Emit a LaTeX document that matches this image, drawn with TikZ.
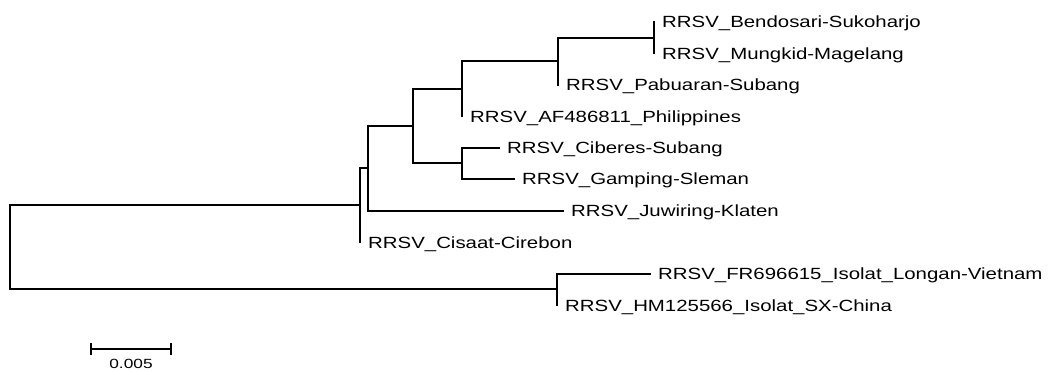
\documentclass[tikz,border=0pt]{standalone}
\usepackage{fontspec}
\setmainfont{Liberation Sans}[FakeStretch=1.26]
\newfontfamily\scalefont{Liberation Sans}[FakeStretch=1.3]
\begin{document}
\begin{tikzpicture}[x=1pt,y=-1pt,
  branch/.style={line width=1.1pt,line cap=rect},
  taxon/.style={anchor=west,inner sep=0pt,font=\fontsize{16.2}{16.2}\selectfont,
    text height=11.6pt,text depth=0pt},
  scalelabel/.style={inner sep=0pt,font=\scalefont\fontsize{13.3}{13.3}\selectfont}]
\useasboundingbox (0,0) rectangle (1053,372);

% internal nodes (x of the vertical bar, y where the parent branch joins)
\coordinate (R) at (10,247);
\coordinate (A) at (360,205);
\coordinate (B) at (368,168);
\coordinate (C) at (413,126);
\coordinate (D) at (462,89);
\coordinate (F) at (558,61);
\coordinate (G) at (654,38);
\coordinate (E) at (462,163);
\coordinate (H) at (557,289);

% branch tips
\coordinate (tBen) at (654,22);
\coordinate (tMun) at (654,53.5);
\coordinate (tPab) at (558,85);
\coordinate (tPhi) at (462,116.5);
\coordinate (tCib) at (499,148);
\coordinate (tGam) at (514,179);
\coordinate (tJuw) at (563,211);
\coordinate (tCis) at (360,242.5);
\coordinate (tLon) at (650,274);
\coordinate (tChi) at (557,305.5);

% taxon labels
\node[taxon] (lBen) at ([xshift=8pt]tBen) {RRSV\_Bendosari-Sukoharjo};
\node[taxon] (lMun) at ([xshift=8pt]tMun) {RRSV\_Mungkid-Magelang};
\node[taxon] (lPab) at ([xshift=8pt]tPab) {RRSV\_Pabuaran-Subang};
\node[taxon] (lPhi) at ([xshift=8pt]tPhi) {RRSV\_AF486811\_Philippines};
\node[taxon] (lCib) at ([xshift=8pt]tCib) {RRSV\_Ciberes-Subang};
\node[taxon] (lGam) at ([xshift=8pt]tGam) {RRSV\_Gamping-Sleman};
\node[taxon] (lJuw) at ([xshift=8pt]tJuw) {RRSV\_Juwiring-Klaten};
\node[taxon] (lCis) at ([xshift=8pt]tCis) {RRSV\_Cisaat-Cirebon};
\node[taxon] (lLon) at ([xshift=8pt]tLon) {RRSV\_FR696615\_Isolat\_Longan-Vietnam};
\node[taxon] (lChi) at ([xshift=8pt]tChi) {RRSV\_HM125566\_Isolat\_SX-China};

% tree branches
\draw[branch] (A) -| (R) |- (H);
\draw[branch] (B) -| (A) |- (tCis);
\draw[branch] (C) -| (B) |- (tJuw);
\draw[branch] (D) -| (C) |- (E);
\draw[branch] (F) -| (D) |- (tPhi);
\draw[branch] (G) -| (F) |- (tPab);
\draw[branch] (tBen) -| (G) |- (tMun);
\draw[branch] (tCib) -| (E) |- (tGam);
\draw[branch] (tLon) -| (H) |- (tChi);

% scale bar
\coordinate (s0) at (91,349);
\coordinate (s1) at (171,349);
\draw[branch] (s0) -- (s1);
\draw[branch] ([yshift=-5pt]s0) -- ([yshift=5pt]s0);
\draw[branch] ([yshift=-5pt]s1) -- ([yshift=5pt]s1);
\node[scalelabel] (sl) at (131,364) {0.005};
\end{tikzpicture}
\end{document}
